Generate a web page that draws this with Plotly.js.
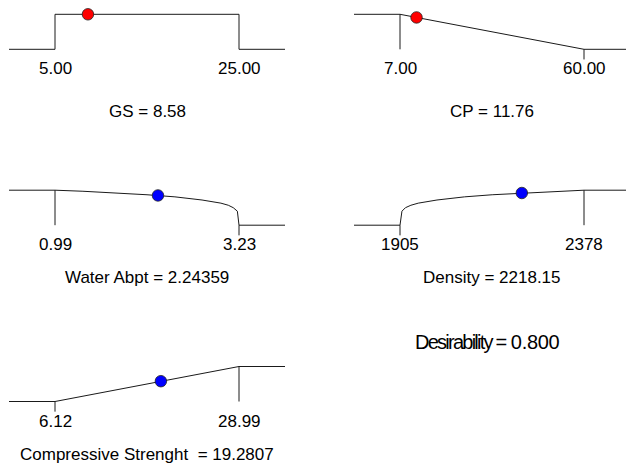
<!DOCTYPE html>
<html>
<head>
<meta charset="utf-8">
<script src="https://cdn.plot.ly/plotly-3.0.1.min.js"></script>
<style>
  html, body { margin: 0; padding: 0; overflow: hidden; background: #fff; }
</style>
</head>
<body>
<div id="chart" style="width:630px;height:474px"></div>
<script>
// Desirability ramps for the optimised mix
const panelNames = ['GS', 'CP', 'Water Abpt', 'Density', 'Compressive Strenght '];
const lowLimits = [5, 7, 0.99, 1905, 6.12];
const highLimits = [25, 60, 3.23, 2378, 28.99];
const lowLabels = ['5.00', '7.00', '0.99', '1905', '6.12'];
const highLabels = ['25.00', '60.00', '3.23', '2378', '28.99'];
const solutionValues = [8.58, 11.76, 2.24359, 2218.15, 19.2807];
const solutionLabels = ['8.58', '11.76', '2.24359', '2218.15', '19.2807'];
const solutionDesirability = [1, 0.91, 0.85, 0.92, 0.58];
const isFactor = [true, true, false, false, false];

// ramp outlines: value -> individual desirability
const gsRampX = [5, 5, 25, 25];
const gsRampD = [0, 1, 1, 0];
const cpRampX = [7, 60];
const cpRampD = [1, 0];
const waterRampX = [0.99, 1.33, 1.66, 2.11, 2.45, 2.78, 3.01, 3.10, 3.16, 3.21, 3.23];
const waterRampD = [1, 0.97, 0.93, 0.87, 0.81, 0.72, 0.63, 0.57, 0.50, 0.40, 0];
const densityRampX = [1905, 1910, 1919, 1933, 1952, 2000, 2071, 2142, 2236, 2307, 2378];
const densityRampD = [0, 0.40, 0.50, 0.57, 0.63, 0.72, 0.81, 0.87, 0.93, 0.97, 1];
const strengthRampX = [6.12, 28.99];
const strengthRampD = [0, 1];

const overallDesirability = '0.800';

const rampsX = [gsRampX, cpRampX, waterRampX, densityRampX, strengthRampX];
const rampsD = [gsRampD, cpRampD, waterRampD, densityRampD, strengthRampD];

// ---- layout geometry (pixels) ----
const W = 630, H = 474;
const colSpan = [[9, 285], [354, 630]];
const rowTopPx = [14.3, 190.2, 366.5];   // where d = 1 sits
const titlePx = [111, 277.7, 454.5];
const unitPx = 35;
const yRange = [-0.5, 1.3];
const tickDepth = 0.29;

const FONT = 'Arial, "Liberation Sans", sans-serif';
const lineStyle = { color: '#1a1a1a', width: 1 };

const traces = [];
const annotations = [];
const layout = {
  width: W, height: H,
  margin: { l: 0, r: 0, t: 0, b: 0 },
  paper_bgcolor: '#fff', plot_bgcolor: 'rgba(0,0,0,0)',
  showlegend: false,
  font: { family: FONT, size: 17, color: '#000' },
  annotations: annotations
};

panelNames.forEach((name, i) => {
  const row = Math.floor(i / 2), col = i % 2;
  const n = i === 0 ? '' : String(i + 1);
  const xa = 'x' + n, ya = 'y' + n;
  const L = lowLimits[i], U = highLimits[i];
  const span = U - L;
  const xr = [L - 0.25 * span, U + 0.25 * span];

  const topPx = rowTopPx[row] - (yRange[1] - 1) * unitPx;
  const botPx = rowTopPx[row] + (1 - yRange[0]) * unitPx;

  layout['xaxis' + n] = {
    domain: [colSpan[col][0] / W, colSpan[col][1] / W],
    range: xr, visible: false, fixedrange: true
  };
  layout['yaxis' + n] = {
    domain: [1 - botPx / H, 1 - topPx / H],
    range: yRange, visible: false, fixedrange: true
  };

  const rx = rampsX[i], rd = rampsD[i];
  // ramp with flat run-outs to both edges
  traces.push({
    x: [xr[0]].concat(rx, [xr[1]]),
    y: [rd[0]].concat(rd, [rd[rd.length - 1]]),
    xaxis: xa, yaxis: ya, mode: 'lines', line: lineStyle,
    hoverinfo: 'skip'
  });

  // limit markers: drop line where ramp is at 1, short tick where it is at 0
  const ends = [
    { x: L, d: rd[0], vertical: rx[1] === rx[0] },
    { x: U, d: rd[rd.length - 1], vertical: rx[rx.length - 2] === rx[rx.length - 1] }
  ];
  ends.forEach(e => {
    if (e.vertical) return;
    const yy = e.d === 1 ? [1, 0] : [0, -tickDepth];
    traces.push({
      x: [e.x, e.x], y: yy, xaxis: xa, yaxis: ya,
      mode: 'lines', line: lineStyle, hoverinfo: 'skip'
    });
  });

  // current solution
  traces.push({
    x: [solutionValues[i]], y: [solutionDesirability[i]],
    xaxis: xa, yaxis: ya, mode: 'markers', cliponaxis: false,
    marker: {
      size: 11.5,
      color: isFactor[i] ? '#ff0000' : '#0000ff',
      line: { color: '#222', width: 0.8 }
    },
    hovertemplate: name + ' = ' + solutionLabels[i] + '<extra></extra>'
  });

  // limit labels
  [[L, lowLabels[i]], [U, highLabels[i]]].forEach(([v, t]) => {
    annotations.push({
      xref: xa, yref: ya, x: v, y: 0, yshift: -19.5,
      text: t, showarrow: false, xanchor: 'center', yanchor: 'middle',
      font: { family: FONT, size: 17, color: '#000' }
    });
  });

  // panel caption
  annotations.push({
    xref: 'paper', yref: 'paper',
    x: (colSpan[col][0] + colSpan[col][1]) / 2 / W,
    y: 1 - titlePx[row] / H,
    text: name + ' = ' + solutionLabels[i],
    showarrow: false, xanchor: 'center', yanchor: 'middle',
    font: { family: FONT, size: 17, color: '#000' }
  });
});

// overall desirability (narrow box trims the last digit, as in the original output)
annotations.push({
  xref: 'paper', yref: 'paper',
  x: 413 / W, y: 1 - 341.7 / H,
  xanchor: 'left', yanchor: 'middle', align: 'left',
  width: 146,
  text: '<span style="letter-spacing:-1.75px">Desirability =</span>' +
        '<span style="letter-spacing:-0.3px"> ' + overallDesirability + '</span>',
  showarrow: false,
  font: { family: FONT, size: 20, color: '#000' }
});

Plotly.newPlot('chart', traces, layout, { staticPlot: true, displayModeBar: false });
</script>
</body>
</html>
